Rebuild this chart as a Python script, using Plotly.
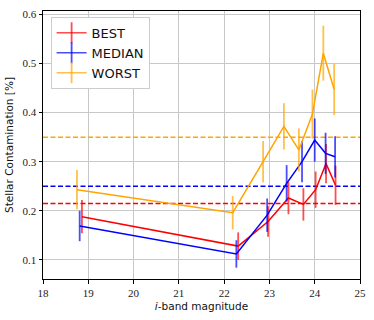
import plotly.graph_objects as go

# ---- data ----
worst_x = [18.75, 22.19, 22.86, 23.32, 23.65, 23.95, 24.19, 24.43]
worst_y = [0.243, 0.196, 0.300, 0.372, 0.324, 0.397, 0.521, 0.447]
worst_e = [0.040, 0.034, 0.042, 0.047, 0.044, 0.050, 0.056, 0.052]

median_x = [18.81, 22.27, 22.95, 23.38, 23.72, 24.00, 24.24, 24.45]
median_y = [0.169, 0.112, 0.191, 0.256, 0.300, 0.344, 0.317, 0.310]
median_e = [0.031, 0.028, 0.034, 0.037, 0.042, 0.044, 0.042, 0.042]

best_x = [18.86, 22.31, 22.97, 23.42, 23.75, 24.02, 24.25, 24.46]
best_y = [0.188, 0.128, 0.178, 0.226, 0.213, 0.243, 0.296, 0.252]
best_e = [0.034, 0.028, 0.031, 0.033, 0.033, 0.037, 0.040, 0.040]

ref_levels = {"BEST": 0.215, "MEDIAN": 0.25, "WORST": 0.35}
x_range = [18, 25]
y_range = [0.061, 0.607]
x_ticks = [18, 19, 20, 21, 22, 23, 24, 25]
y_ticks = [0.1, 0.2, 0.3, 0.4, 0.5, 0.6]

series = [
    ("BEST", best_x, best_y, best_e, "#ff0000", "rgba(255,0,0,0.7)"),
    ("MEDIAN", median_x, median_y, median_e, "#0000ff", "rgba(0,0,255,0.7)"),
    ("WORST", worst_x, worst_y, worst_e, "#ffa500", "rgba(255,165,0,0.7)"),
]

fig = go.Figure()

# dashed reference lines
for name, xs, ys, es, col, ecol in series:
    lvl = ref_levels[name]
    fig.add_trace(go.Scatter(x=x_range, y=[lvl, lvl], mode="lines",
                             line=dict(color=col, width=1.5, dash="5px,2.5px"),
                             showlegend=False, hoverinfo="skip"))

# data with error bars
for name, xs, ys, es, col, ecol in series:
    fig.add_trace(go.Scatter(x=xs, y=ys, mode="lines",
                             line=dict(color=col, width=1.5),
                             error_y=dict(type="data", array=es, visible=True,
                                          color=ecol, thickness=1.8, width=0),
                             showlegend=False))

# legend entries
for name, xs, ys, es, col, ecol in series:
    fig.add_trace(go.Scatter(x=[None], y=[None], mode="lines+markers", name=name,
                             line=dict(color=ecol, width=1.5),
                             marker=dict(symbol="line-ns", size=15, color=ecol,
                                         line=dict(color=ecol, width=1.8))))

axis_common = dict(showline=True, linecolor="black", linewidth=1, mirror=True,
                   ticks="outside", ticklen=3.5, tickcolor="black", tickwidth=1,
                   showgrid=True, gridcolor="#c8c8c8", gridwidth=1, zeroline=False,
                   automargin=False,
                   tickfont=dict(family="Liberation Serif", size=11, color="#222"))

fig.update_layout(
    template="none",
    width=374, height=320,
    margin=dict(l=43, r=14, t=11, b=41),
    paper_bgcolor="white", plot_bgcolor="white",
    xaxis=dict(range=x_range, tickvals=x_ticks,
               title=dict(text="<i>i</i>-band magnitude", standoff=4,
                          font=dict(family="DejaVu Sans", size=10.5, color="#111")),
               **axis_common),
    yaxis=dict(range=y_range, tickvals=y_ticks, tickformat=".1f",
               title=dict(text="Stellar Contamination [%]", standoff=6,
                          font=dict(family="DejaVu Sans", size=10.5, color="#111")),
               **axis_common),
    legend=dict(x=0.024, y=0.978, xanchor="left", yanchor="top",
                bgcolor="white", bordercolor="#cccccc", borderwidth=1,
                font=dict(family="DejaVu Sans", size=13, color="#111"),
                tracegroupgap=0),
    showlegend=True,
)

fig.write_html("out.html",
               config={"displayModeBar": False},
               post_script="document.body.style.margin='0';document.body.style.overflow='hidden';")
